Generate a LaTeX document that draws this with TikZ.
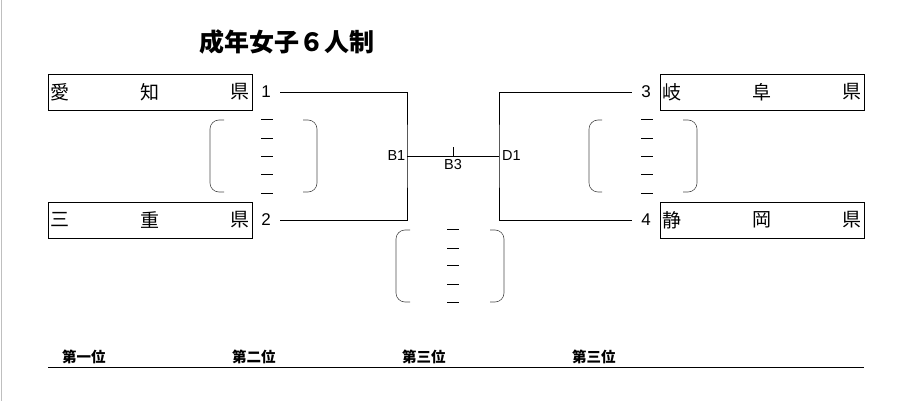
\documentclass[tikz,border=0pt]{standalone}
\usepackage{fontspec}
\setmainfont{Liberation Sans}
\newfontfamily\jpfont{Noto Sans CJK JP}
\tikzset{
  box/.style={draw, line width=0.9pt, minimum width=204pt, minimum height=36pt, inner sep=0pt},
  num/.style={font=\fontsize{17}{17}\selectfont, minimum width=28pt, inner sep=0pt},
  lbl/.style={font=\fontsize{14.5}{14.5}\selectfont, inner sep=1.5pt},
  kanji/.style={font=\jpfont\fontsize{19}{19}\selectfont, inner sep=0pt},
  rank/.style={font=\jpfont\bfseries\fontsize{14.5}{15}\selectfont, inner sep=0pt},
  paren/.style={draw=black!70, line width=0.6pt, rounded corners=9pt},
  line/.style={line width=0.9pt}
}
\begin{document}
\begin{tikzpicture}[x=1pt, y=-1pt]
    \useasboundingbox (0,0) rectangle (897,401);
    \draw[black!25, line width=1pt] (1.5,0) -- (1.5,401);

    \node[font=\jpfont\bfseries\fontsize{25}{25}\selectfont] (title) at (287,42) {成年女子６人制};

    % boxes
    \node[box] (aichi) at (150,92) {};
    \node[box] (mie) at (150,220) {};
    \node[box] (gifu) at (762,92) {};
    \node[box] (shizuoka) at (762,220) {};

    \node[kanji, anchor=west] at ([xshift=3pt]aichi.west) {愛};
    \node[kanji] at (aichi.center) {知};
    \node[kanji, anchor=east] at ([xshift=-3pt]aichi.east) {県};
    \node[kanji, anchor=west] at ([xshift=3pt]mie.west) {三};
    \node[kanji] at (mie.center) {重};
    \node[kanji, anchor=east] at ([xshift=-3pt]mie.east) {県};
    \node[kanji, anchor=west] at ([xshift=3pt]gifu.west) {岐};
    \node[kanji] at (gifu.center) {阜};
    \node[kanji, anchor=east] at ([xshift=-3pt]gifu.east) {県};
    \node[kanji, anchor=west] at ([xshift=3pt]shizuoka.west) {静};
    \node[kanji] at (shizuoka.center) {岡};
    \node[kanji, anchor=east] at ([xshift=-3pt]shizuoka.east) {県};

    % numbers
    \node[num] (n1) at (266,92) {1};
    \node[num] (n2) at (266,220) {2};
    \node[num] (n3) at (646,92) {3};
    \node[num] (n4) at (646,220) {4};

    % bracket lines
    \coordinate (b1) at (407,156);
    \coordinate (d1) at (499,156);
    \coordinate (b3) at (453,156);
    \draw[line] (n1.east) -| (b1) |- (n2.east);
    \draw[line] (n3.west) -| (d1) |- (n4.west);
    \draw[line] (b1) -- (d1);
    \draw[line] (b3) -- ++(0,-9);
    \node[lbl, anchor=east] (b1lbl) at (b1) {B1};
    \node[lbl, anchor=west] (d1lbl) at ([xshift=1.5pt]d1) {D1};
    \node[lbl, anchor=north] (b3lbl) at ([yshift=-1.5pt]b3) {B3};

    % score brackets
    \draw[paren] (224,120) -- (210,120) -- (210,192) -- (224,192);
    \draw[paren] (303,120) -- (317,120) -- (317,192) -- (303,192);
    \draw[paren] (602,120) -- (589,120) -- (589,192) -- (602,192);
    \draw[paren] (683,120) -- (697,120) -- (697,192) -- (683,192);
    \draw[paren] (410,230) -- (396,230) -- (396,302) -- (410,302);
    \draw[paren] (490,230) -- (504,230) -- (504,302) -- (490,302);
    \foreach \y in {119,138,156,174,193} {
        \draw[line width=0.9pt] (261,\y) -- (273,\y);
        \draw[line width=0.9pt] (641,\y) -- (653,\y);
    }
    \foreach \y in {229,248,265,284,302}
        \draw[line width=0.9pt] (447,\y) -- (459,\y);

    % ranking
    \node[rank, anchor=west] (r1) at (62,357) {第一位};
    \node[rank, anchor=west] (r2) at (232,357) {第二位};
    \node[rank, anchor=west] (r3) at (402,357) {第三位};
    \node[rank, anchor=west] (r4) at (572,357) {第三位};
    \draw[line] (48,367) -- (864,367);
\end{tikzpicture}
\end{document}
